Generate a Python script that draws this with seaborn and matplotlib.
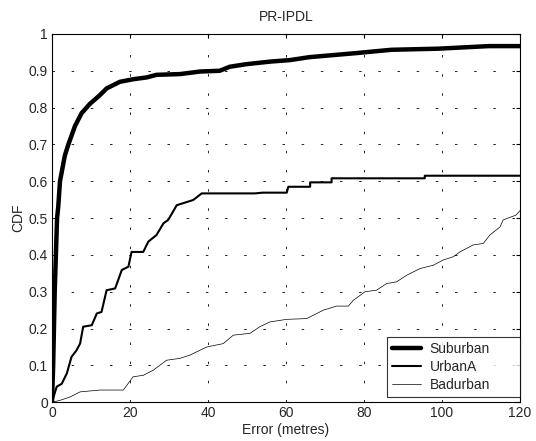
import numpy as np
import pandas as pd
import matplotlib
matplotlib.use("Agg")
import matplotlib.pyplot as plt
import seaborn as sns
from matplotlib.ticker import FormatStrFormatter

sub_x = [0, 0.3, 0.5, 0.7, 1.0, 1.3, 1.6, 2.05, 3.3, 4.2, 5.9, 7.6, 9.7, 12.3, 14, 17.4,
         20.8, 24.3, 26.8, 32.8, 38, 43, 45.6, 49.9, 56, 61, 66, 78, 87, 99, 112, 120]
sub_y = [0, 0.1, 0.2, 0.3, 0.4, 0.5, 0.53, 0.60, 0.67, 0.70, 0.75, 0.785, 0.81, 0.834, 0.852, 0.870,
         0.877, 0.882, 0.889, 0.891, 0.898, 0.90, 0.911, 0.918, 0.925, 0.929, 0.937, 0.948, 0.957, 0.96, 0.967, 0.967]

urb_x = [0, 1.2, 2.5, 3.8, 5.0, 6.3, 7.2, 8.0, 10.2, 11.5, 12.7, 14.0, 16.2, 17.9, 19.6, 20.4,
         23.4, 24.7, 26.8, 28.6, 29.8, 32, 36.2, 38.4, 52, 54, 55.9, 60.2, 60.6, 66.2, 66.2,
         71.7, 71.7, 95.6, 95.6, 120]
urb_y = [0, 0.042, 0.05, 0.078, 0.123, 0.141, 0.159, 0.205, 0.209, 0.241, 0.245, 0.304, 0.309, 0.359, 0.368, 0.408,
         0.408, 0.436, 0.454, 0.486, 0.495, 0.535, 0.549, 0.567, 0.567, 0.569, 0.569, 0.569, 0.585, 0.585, 0.597,
         0.597, 0.608, 0.608, 0.615, 0.615]

bad_x = [0, 2.05, 4.6, 7.2, 12.3, 18.3, 20.8, 23.4, 26, 29.4, 32.8, 35.4, 39.7, 43.9, 46.5, 50.8,
         53.3, 55.9, 60.2, 65.3, 67, 69.6, 73, 76, 77.3, 80.3, 83.2, 85.8, 88.4, 91, 94.4, 97.8,
         100.3, 102.9, 104.6, 108, 110.6, 112.3, 114.9, 115.7, 119, 120]
bad_y = [0, 0.005, 0.014, 0.028, 0.033, 0.033, 0.069, 0.073, 0.087, 0.114, 0.119, 0.128, 0.150, 0.159, 0.182, 0.187,
         0.205, 0.218, 0.225, 0.227, 0.236, 0.25, 0.261, 0.261, 0.277, 0.30, 0.304, 0.322, 0.327, 0.345, 0.363, 0.372,
         0.386, 0.395, 0.408, 0.427, 0.431, 0.454, 0.476, 0.495, 0.508, 0.52]

series = [("Suburban", sub_x, sub_y, 3.2), ("UrbanA", urb_x, urb_y, 1.5), ("Badurban", bad_x, bad_y, 0.5)]

sns.set_style("white")
plt.rcParams['font.family'] = ['Liberation Sans', 'DejaVu Sans']

fig = plt.figure(figsize=(5.36, 4.41), dpi=100)
ax = fig.add_axes([0.097, 0.088, 0.873, 0.835])

for name, xs, ys, lw in series:
    d = pd.DataFrame({"x": xs, "y": ys})
    sns.lineplot(x="x", y="y", data=d, ax=ax, color="k", lw=lw, label=name,
                 sort=False, estimator=None)

ax.set_xlim(0, 120)
ax.set_ylim(0, 1)
ax.set_xticks(np.arange(0, 121, 20))
ax.set_yticks(np.arange(0, 1.01, 0.1))
ax.yaxis.set_major_formatter(FormatStrFormatter('%g'))
ax.grid(True, color="k", linestyle=(0, (3, 20)), lw=0.6)
ax.tick_params(direction="in", length=3, labelsize=10, color="k", top=True, right=True, pad=3)
for s in ax.spines.values():
    s.set_color("k")
    s.set_linewidth(0.8)

ax.set_title("PR-IPDL", fontsize=10, pad=9)
ax.set_xlabel("Error (metres)", fontsize=10, labelpad=2)
ax.set_ylabel("CDF", fontsize=10, labelpad=2)

# matlab-style legend box, wider than its text
leg = ax.legend(loc="lower left", bbox_to_anchor=(0.716, 0.014, 0.284, 0.16), mode="expand",
                fontsize=10, frameon=True, fancybox=False, borderaxespad=0,
                handlelength=2.1, handletextpad=0.6, labelspacing=0.3, borderpad=0.35)
leg.get_frame().set_edgecolor("k")
leg.get_frame().set_linewidth(0.8)

plt.savefig("out.png", dpi=100)
